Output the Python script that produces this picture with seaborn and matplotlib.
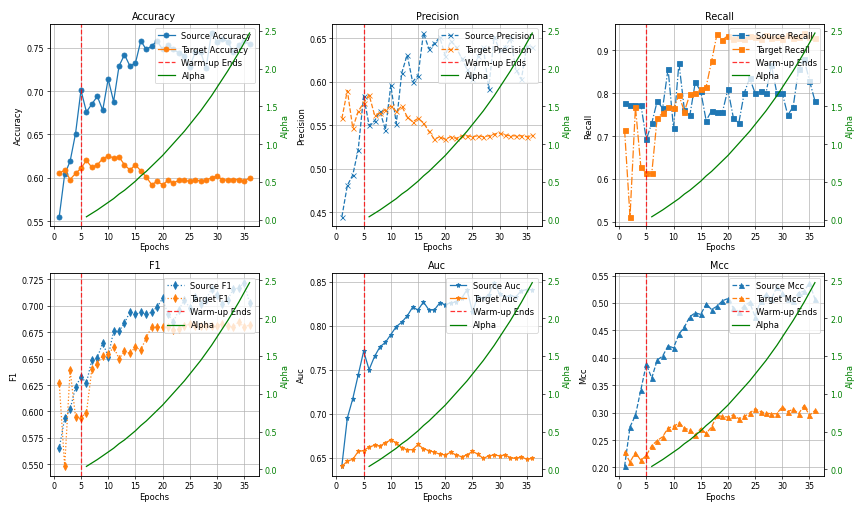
import matplotlib
matplotlib.use("Agg")
import matplotlib.pyplot as plt
import seaborn as sns
import pandas as pd

epochs = list(range(1, 37))
warmup_epoch = 5
alpha_epochs = list(range(6, 37))
alpha_values = [0.04, 0.085, 0.13, 0.18, 0.23, 0.28, 0.34, 0.39, 0.45, 0.51,
                0.58, 0.64, 0.71, 0.78, 0.85, 0.93, 1.01, 1.09, 1.17, 1.26,
                1.35, 1.44, 1.54, 1.64, 1.75, 1.86, 1.97, 2.09, 2.21, 2.34, 2.47]

source_accuracy = [0.555, 0.604, 0.619, 0.651, 0.701, 0.676, 0.685, 0.694, 0.678, 0.714,
                   0.688, 0.729, 0.742, 0.729, 0.732, 0.758, 0.748, 0.752, 0.758, 0.748,
                   0.753, 0.748, 0.744, 0.741, 0.728, 0.745, 0.745, 0.727, 0.767, 0.757,
                   0.760, 0.757, 0.745, 0.753, 0.758, 0.754]
target_accuracy = [0.605, 0.609, 0.598, 0.605, 0.611, 0.620, 0.612, 0.615, 0.622, 0.625,
                   0.623, 0.624, 0.615, 0.609, 0.615, 0.608, 0.601, 0.592, 0.596, 0.592,
                   0.597, 0.594, 0.597, 0.597, 0.596, 0.598, 0.596, 0.597, 0.600, 0.602,
                   0.598, 0.597, 0.598, 0.598, 0.596, 0.600]

source_precision = [0.445, 0.481, 0.493, 0.522, 0.584, 0.550, 0.555, 0.566, 0.545, 0.596,
                    0.552, 0.610, 0.631, 0.600, 0.607, 0.656, 0.638, 0.644, 0.651, 0.630,
                    0.647, 0.640, 0.627, 0.615, 0.603, 0.630, 0.640, 0.592, 0.652, 0.636,
                    0.640, 0.650, 0.614, 0.603, 0.641, 0.640]
target_precision = [0.558, 0.590, 0.547, 0.566, 0.576, 0.585, 0.562, 0.564, 0.568, 0.572,
                    0.566, 0.572, 0.560, 0.554, 0.558, 0.553, 0.543, 0.534, 0.537, 0.534,
                    0.537, 0.535, 0.538, 0.538, 0.537, 0.538, 0.537, 0.538, 0.540, 0.541,
                    0.539, 0.538, 0.538, 0.538, 0.537, 0.539]

source_recall = [0.777, 0.773, 0.773, 0.773, 0.692, 0.730, 0.781, 0.765, 0.857, 0.718,
                 0.870, 0.761, 0.748, 0.825, 0.805, 0.736, 0.759, 0.756, 0.756, 0.809,
                 0.743, 0.730, 0.800, 0.835, 0.800, 0.804, 0.800, 0.865, 0.800, 0.800,
                 0.749, 0.768, 0.856, 0.879, 0.829, 0.782]
target_recall = [0.715, 0.512, 0.768, 0.627, 0.613, 0.613, 0.743, 0.753, 0.768, 0.765,
                 0.795, 0.757, 0.797, 0.801, 0.809, 0.815, 0.874, 0.938, 0.924, 0.934,
                 0.926, 0.928, 0.925, 0.932, 0.930, 0.925, 0.935, 0.928, 0.930, 0.925,
                 0.935, 0.928, 0.930, 0.940, 0.930, 0.928]

source_f1 = [0.565, 0.5935, 0.602, 0.623, 0.633, 0.627, 0.649, 0.651, 0.665, 0.652,
             0.676, 0.676, 0.684, 0.694, 0.692, 0.694, 0.692, 0.694, 0.699, 0.707,
             0.692, 0.685, 0.696, 0.706, 0.698, 0.708, 0.702, 0.706, 0.716, 0.710,
             0.702, 0.706, 0.716, 0.717, 0.722, 0.703]
target_f1 = [0.627, 0.548, 0.639, 0.595, 0.594, 0.599, 0.640, 0.645, 0.653, 0.654,
             0.661, 0.650, 0.657, 0.655, 0.661, 0.658, 0.670, 0.680, 0.680, 0.680,
             0.680, 0.677, 0.678, 0.681, 0.683, 0.681, 0.681, 0.681, 0.681, 0.681,
             0.683, 0.681, 0.680, 0.685, 0.680, 0.682]

source_auc = [0.641, 0.695, 0.717, 0.744, 0.771, 0.750, 0.765, 0.776, 0.781, 0.790,
              0.799, 0.804, 0.811, 0.821, 0.818, 0.827, 0.818, 0.818, 0.826, 0.824,
              0.826, 0.827, 0.831, 0.841, 0.816, 0.833, 0.831, 0.835, 0.849, 0.836,
              0.833, 0.834, 0.833, 0.840, 0.841, 0.841]
target_auc = [0.640, 0.646, 0.648, 0.657, 0.658, 0.662, 0.664, 0.663, 0.667, 0.670,
              0.667, 0.661, 0.659, 0.659, 0.665, 0.660, 0.658, 0.656, 0.654, 0.653,
              0.656, 0.653, 0.651, 0.653, 0.657, 0.654, 0.649, 0.652, 0.653, 0.652,
              0.653, 0.650, 0.649, 0.651, 0.648, 0.649]

source_mcc = [0.202, 0.274, 0.295, 0.342, 0.388, 0.363, 0.396, 0.403, 0.422, 0.418,
              0.443, 0.456, 0.475, 0.482, 0.479, 0.498, 0.488, 0.494, 0.504, 0.508,
              0.491, 0.484, 0.495, 0.501, 0.475, 0.504, 0.516, 0.507, 0.529, 0.519,
              0.507, 0.504, 0.519, 0.521, 0.537, 0.507]
target_mcc = [0.228, 0.210, 0.227, 0.213, 0.222, 0.240, 0.249, 0.256, 0.272, 0.275,
              0.281, 0.272, 0.268, 0.259, 0.271, 0.262, 0.274, 0.295, 0.293, 0.292,
              0.296, 0.289, 0.293, 0.299, 0.307, 0.302, 0.299, 0.298, 0.298, 0.311,
              0.302, 0.306, 0.298, 0.313, 0.295, 0.304]

metric_names = ["Accuracy", "Precision", "Recall", "F1", "Auc", "Mcc"]
source_series = [source_accuracy, source_precision, source_recall, source_f1, source_auc, source_mcc]
target_series = [target_accuracy, target_precision, target_recall, target_f1, target_auc, target_mcc]
markers = ["o", "x", "s", "d", "*", "^"]
linestyles = ["-", "--", "-.", ":", "-", "--"]

DPI = 60
plt.rcParams["xtick.labelsize"] = 9.5
plt.rcParams["ytick.labelsize"] = 9.5
fig, axes = plt.subplots(2, 3, figsize=(857 / DPI, 507 / DPI), dpi=DPI)
fig.subplots_adjust(left=0.058, right=0.962, top=0.951, bottom=0.060,
                    wspace=0.35, hspace=0.235)

for ax, name, src, tgt, mk, ls in zip(axes.flat, metric_names, source_series,
                                      target_series, markers, linestyles):
    df = pd.DataFrame({"Epoch": epochs, "Source": src, "Target": tgt})
    sns.lineplot(data=df, x="Epoch", y="Source", ax=ax, marker=mk, linestyle=ls,
                 color="tab:blue", markeredgecolor="tab:blue", markeredgewidth=1.0,
                 linewidth=1.5, label=f"Source {name}", legend=False)
    sns.lineplot(data=df, x="Epoch", y="Target", ax=ax, marker=mk, linestyle=ls,
                 color="tab:orange", markeredgecolor="tab:orange", markeredgewidth=1.0,
                 linewidth=1.5, label=f"Target {name}", legend=False)
    ax.axvline(warmup_epoch, color="red", linestyle="--", alpha=0.8,
               linewidth=1.5, label="Warm-up Ends")
    ax.set_title(name, fontsize=11.5)
    ax.set_xlabel("Epochs", labelpad=2)
    ax.set_ylabel(name)
    ax.grid(True)

    ax2 = ax.twinx()
    adf = pd.DataFrame({"Epoch": alpha_epochs, "Alpha": alpha_values})
    sns.lineplot(data=adf, x="Epoch", y="Alpha", ax=ax2, color="green",
                 linewidth=1.5, label="Alpha", legend=False)
    ax2.set_ylabel("Alpha", color="green")
    ax2.tick_params(axis="y", labelcolor="green")

    h1, l1 = ax.get_legend_handles_labels()
    h2, l2 = ax2.get_legend_handles_labels()
    ax.legend(h1 + h2, l1 + l2, loc="upper right")

fig.savefig("out.png", dpi=DPI)
